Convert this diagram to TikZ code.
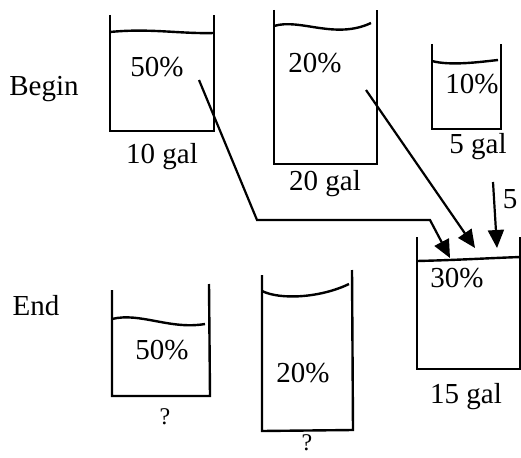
\documentclass[tikz,border=0pt]{standalone}
\usepackage{fontspec}
\setmainfont{Liberation Serif}
\usepackage{tikz}
\usetikzlibrary{arrows.meta}

\begin{document}
\begin{tikzpicture}[x=1pt, y=-1pt,
    beaker/.style={line width=2.4pt},
    flow/.style={line width=2.2pt, -{Triangle[length=18pt, width=16pt]}},
    lbl/.style={font=\fontsize{29}{33}\selectfont, inner sep=0pt},
    qmark/.style={font=\fontsize{24}{28}\selectfont, inner sep=0pt}]
    \useasboundingbox (0,0) rectangle (521,457);

    % Begin: three beakers
    \draw[beaker] (110,15) -- (110,131) -- (214,131) -- (214,15);
    \draw[beaker] (110,32) .. controls (150,28) and (180,34) .. (214,33);
    \draw[beaker] (274,10) -- (274,164) -- (377,164) -- (377,10);
    \draw[beaker] (274,26) .. controls (300,18) and (335,40) .. (371,23);
    \draw[beaker] (432,44) -- (432,129) -- (501,129) -- (501,44);
    \draw[beaker] (432,61) .. controls (450,66) and (480,62) .. (498,60);

    \node[lbl] (begin) at (44,89) {Begin};
    \node[lbl] (p50) at (157,67) {50\%};
    \node[lbl] (p20) at (315,63) {20\%};
    \node[lbl] (p10) at (472,84) {10\%};
    \node[lbl] (g10) at (162,157) {10 gal};
    \node[lbl] (g20) at (325,184) {20 gal};
    \node[lbl] (g5) at (478,147) {5 gal};

    % Mixture beaker
    \draw[beaker] (417,237) -- (417,369) -- (520,369) -- (520,237);
    \draw[beaker] (417,261) .. controls (460,260) and (490,258) .. (521,257);
    \node[lbl] (p30) at (457,278) {30\%};
    \node[lbl] (g15) at (466,397) {15 gal};

    % Flows into the mixture
    \coordinate (s1) at (199,80);
    \coordinate (s2) at (366,90);
    \coordinate (s3) at (493,182);
    \coordinate (t1) at (450,258);
    \coordinate (t2) at (475,248);
    \coordinate (t3) at (497,248);
    \draw[flow] (s1) -- (257,220) -- (430,220) -- (t1);
    \draw[flow] (s2) -- (t2);
    \draw[flow] (s3) -- (t3);
    \node[lbl] (five) at (510,199) {5};

    % End: two beakers
    \node[lbl] (end) at (36,306) {End};
    \draw[beaker] (112,290) -- (112,396) -- (210,396) -- (209,284);
    \draw[beaker] (112,319) .. controls (140,312) and (170,330) .. (205,324);
    \node[lbl] (e50) at (162,350) {50\%};
    \node[qmark] (q1) at (165,417) {?};
    \draw[beaker] (262,275) -- (262,431) -- (353,430) -- (352,270);
    \draw[beaker] (262,291) .. controls (280,300) and (320,298) .. (349,284);
    \node[lbl] (e20) at (303,373) {20\%};
    \node[qmark] (q2) at (307,443) {?};
\end{tikzpicture}
\end{document}
